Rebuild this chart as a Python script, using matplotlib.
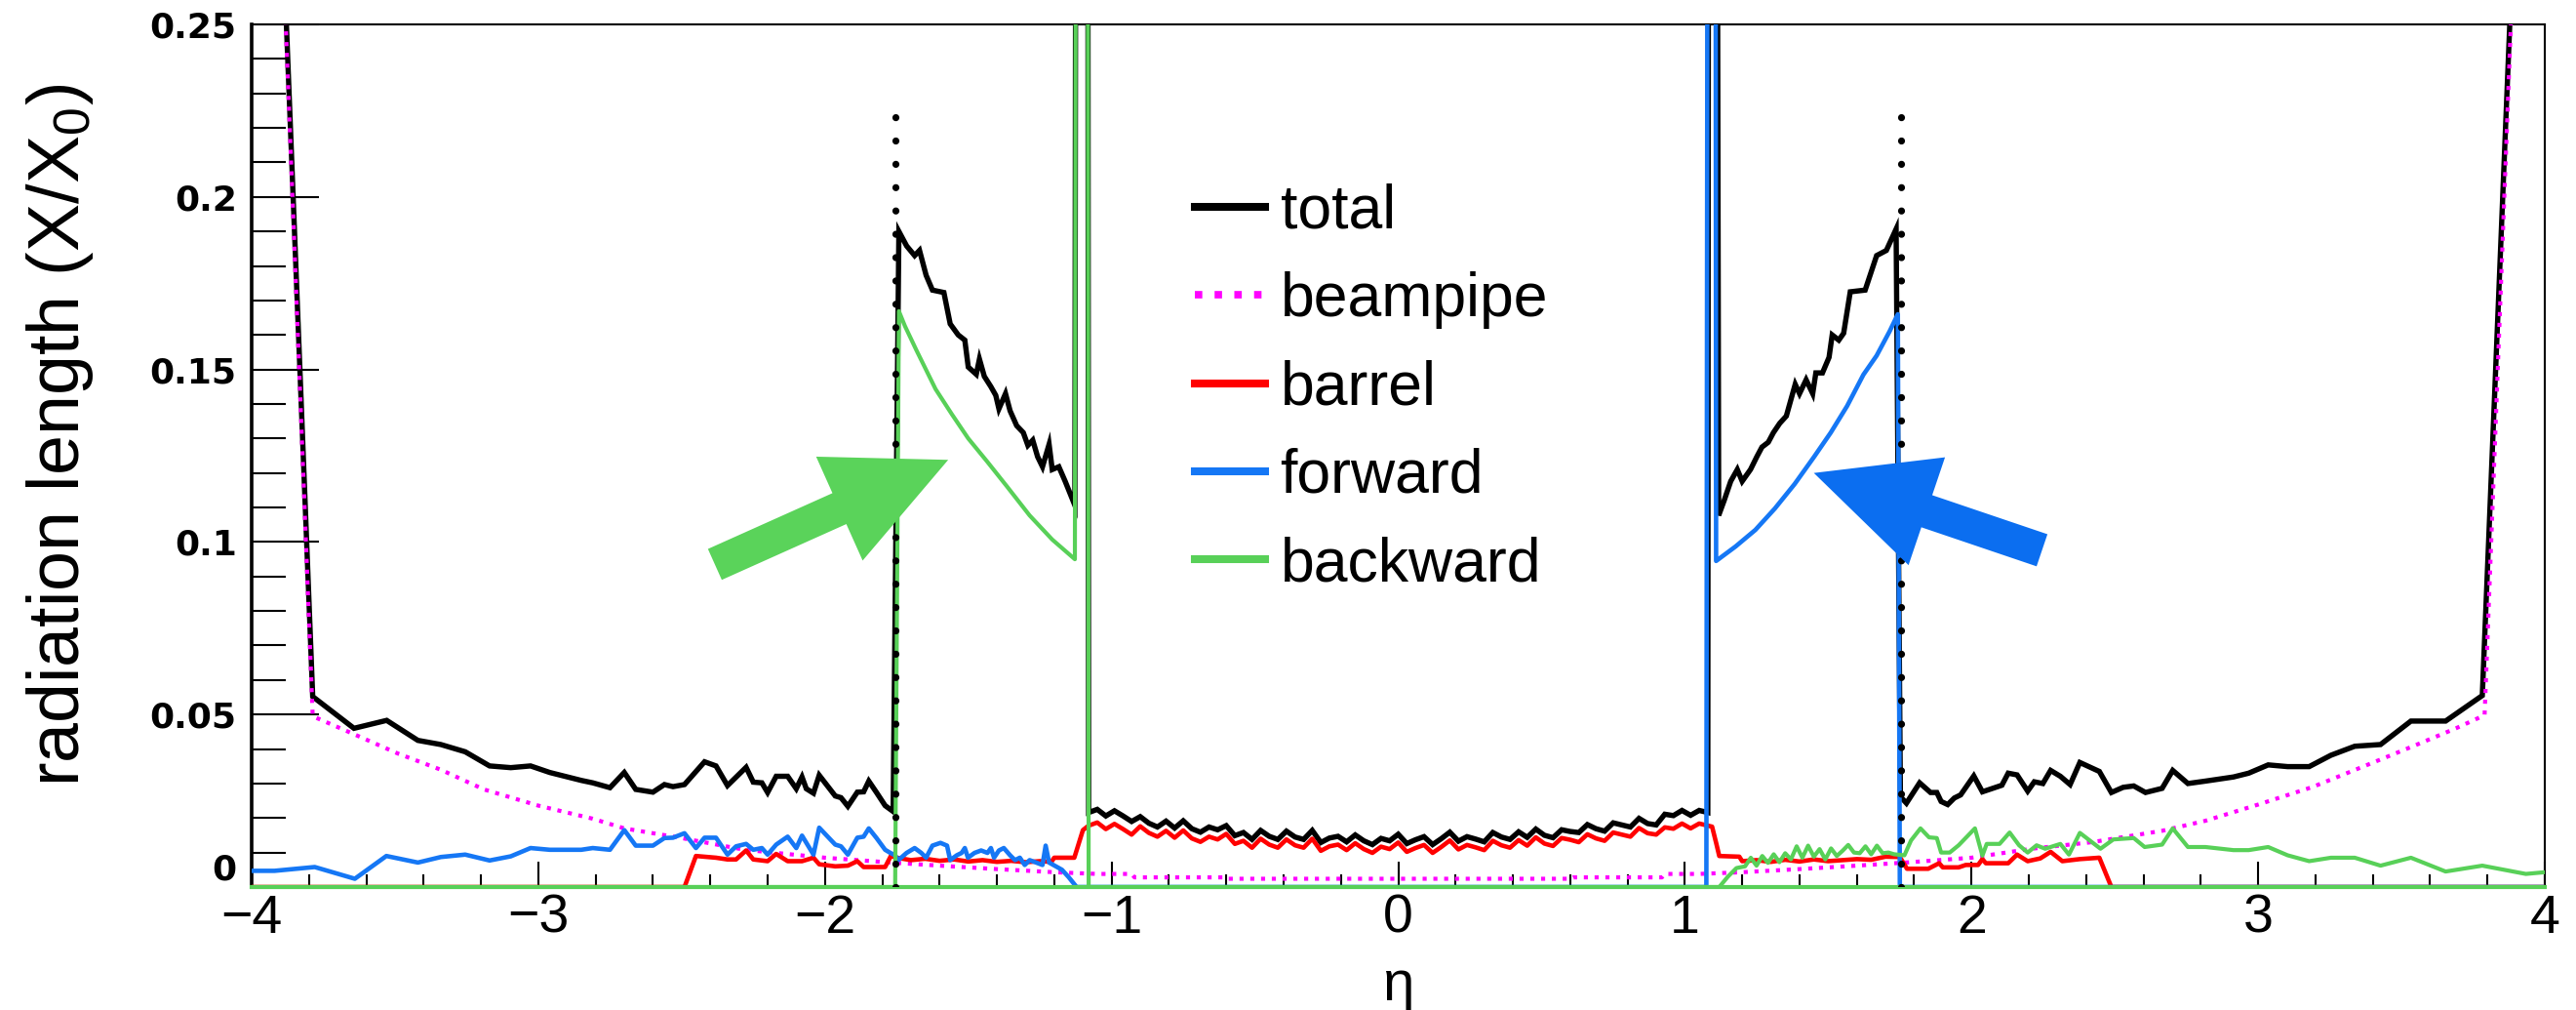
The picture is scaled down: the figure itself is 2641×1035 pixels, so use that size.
import matplotlib
matplotlib.use("Agg")
import matplotlib.pyplot as plt
from matplotlib.lines import Line2D

plt.rcParams['font.family'] = ['Liberation Sans', 'DejaVu Sans']
plt.rcParams['mathtext.fontset'] = 'custom'
plt.rcParams['mathtext.rm'] = 'Liberation Sans'
plt.rcParams['mathtext.it'] = 'Liberation Sans:italic'

# ---------------- data ----------------
total_eta = [-4.00, -3.90, -3.787, -3.643, -3.529, -3.420, -3.340, -3.255, -3.170, -3.096,
             -3.027, -2.960, -2.850, -2.810, -2.750, -2.700, -2.660, -2.600, -2.560, -2.530,
             -2.490, -2.420, -2.380, -2.340, -2.275, -2.250, -2.220, -2.200, -2.170, -2.130,
             -2.100, -2.080, -2.065, -2.040, -2.020, -1.964, -1.944, -1.920, -1.887, -1.865,
             -1.847, -1.820, -1.790, -1.762, -1.742, -1.715, -1.687, -1.670, -1.647, -1.625,
             -1.585, -1.563, -1.535, -1.512, -1.500, -1.472, -1.461, -1.444, -1.421, -1.404,
             -1.393, -1.370, -1.354, -1.331, -1.308, -1.292, -1.275, -1.258, -1.241, -1.218,
             -1.207, -1.184, -1.162, -1.128, -1.120, -1.086,
             -1.08, -1.05, -1.02, -0.99, -0.96, -0.93, -0.90, -0.87, -0.84, -0.81,
             -0.78, -0.75, -0.72, -0.69, -0.66, -0.63, -0.60, -0.57, -0.54, -0.51,
             -0.48, -0.45, -0.42, -0.39, -0.36, -0.33, -0.30, -0.27, -0.24, -0.21,
             -0.18, -0.15, -0.12, -0.09, -0.06, -0.03, 0.00, 0.03, 0.06, 0.09,
             0.12, 0.15, 0.18, 0.21, 0.24, 0.27, 0.30, 0.33, 0.36, 0.39,
             0.42, 0.45, 0.48, 0.51, 0.54, 0.57, 0.60, 0.63, 0.66, 0.69,
             0.72, 0.75, 0.78, 0.81, 0.84, 0.87, 0.90, 0.93, 0.96, 0.99,
             1.02, 1.05, 1.08,
             1.085, 1.105, 1.118, 1.137, 1.160, 1.183, 1.200, 1.229, 1.251, 1.269,
             1.291, 1.309, 1.331, 1.354, 1.371, 1.385, 1.400, 1.423, 1.446, 1.457,
             1.480, 1.503, 1.514, 1.537, 1.554, 1.577, 1.629, 1.669, 1.703, 1.737,
             1.752, 1.773, 1.819, 1.857, 1.879, 1.894, 1.917, 1.940, 1.962, 2.008,
             2.038, 2.106, 2.128, 2.159, 2.196, 2.219, 2.249, 2.276, 2.310, 2.344,
             2.378, 2.446, 2.488, 2.529, 2.566, 2.607, 2.665, 2.702, 2.755, 2.816,
             2.914, 2.967, 3.035, 3.103, 3.178, 3.254, 3.337, 3.427, 3.533, 3.654,
             3.782, 3.900, 4.000]
total_val = [0.555, 0.295, 0.0552, 0.0460, 0.0483, 0.0425, 0.0413, 0.0392, 0.0351, 0.0346,
             0.0351, 0.0332, 0.0309, 0.0302, 0.0288, 0.0332, 0.0283, 0.0275, 0.0297, 0.0291,
             0.0297, 0.0363, 0.0351, 0.0294, 0.0347, 0.0304, 0.0302, 0.0274, 0.0321, 0.0321,
             0.0285, 0.0319, 0.0285, 0.0272, 0.0324, 0.0264, 0.0259, 0.0234, 0.0275, 0.0276,
             0.0307, 0.0274, 0.0236, 0.0219, 0.1900, 0.1858, 0.1830, 0.1845, 0.1773, 0.1730,
             0.1723, 0.1632, 0.1600, 0.1585, 0.1507, 0.1486, 0.1530, 0.1480, 0.1450, 0.1425,
             0.1386, 0.1430, 0.1380, 0.1337, 0.1317, 0.1280, 0.1295, 0.1247, 0.1218, 0.1283,
             0.1210, 0.1218, 0.1176, 0.1106, 0.62, 0.62,
             0.0216, 0.0225, 0.0206, 0.0221, 0.0206, 0.0190, 0.0204, 0.0185, 0.0174, 0.0191,
             0.0171, 0.0192, 0.0169, 0.0159, 0.0174, 0.0166, 0.0178, 0.0149, 0.0158, 0.0138,
             0.0164, 0.0147, 0.0138, 0.0162, 0.0145, 0.0138, 0.0164, 0.0129, 0.0142, 0.0147,
             0.0131, 0.0151, 0.0134, 0.0123, 0.0141, 0.0134, 0.0153, 0.0126, 0.0137, 0.0146,
             0.0123, 0.0140, 0.0159, 0.0133, 0.0146, 0.0139, 0.0131, 0.0158, 0.0145, 0.0138,
             0.0160, 0.0144, 0.0168, 0.0150, 0.0143, 0.0166, 0.0161, 0.0158, 0.0181, 0.0169,
             0.0162, 0.0186, 0.0180, 0.0174, 0.0199, 0.0184, 0.0180, 0.0211, 0.0207, 0.0222,
             0.0208, 0.0222, 0.0216,
             0.62, 0.62, 0.1077, 0.1120, 0.1176, 0.1210, 0.1176, 0.1210, 0.1247, 0.1275,
             0.1289, 0.1317, 0.1344, 0.1365, 0.1415, 0.1457, 0.1430, 0.1470, 0.1430, 0.1490,
             0.1490, 0.1535, 0.1600, 0.1585, 0.1605, 0.1725, 0.1730, 0.1830, 0.1845, 0.1907,
             0.0262, 0.0243, 0.0302, 0.0274, 0.0274, 0.0248, 0.0239, 0.0258, 0.0267, 0.0322,
             0.0276, 0.0295, 0.0330, 0.0325, 0.0278, 0.0305, 0.0300, 0.0338, 0.0321, 0.0297,
             0.0361, 0.0335, 0.0274, 0.0289, 0.0293, 0.0274, 0.0286, 0.0338, 0.0300, 0.0307,
             0.0319, 0.0330, 0.0354, 0.0349, 0.0349, 0.0382, 0.0408, 0.0413, 0.0481, 0.0481,
             0.0555, 0.295, 0.555]

beampipe_eta = [-4.00, -3.90, -3.787, -3.643, -3.49, -3.34, -3.19, -3.00, -2.81, -2.70,
                -2.50, -2.28, -2.00, -1.77, -1.60, -1.40, -1.20, -1.05, -0.93, -0.92,
                -0.61, -0.60, 0.60, 0.61, 0.92, 0.93, 1.05, 1.20, 1.40, 1.60,
                1.77, 2.00, 2.21, 2.42, 2.665, 2.816, 3.00, 3.19, 3.375, 3.54,
                3.69, 3.79, 3.90, 4.00]
beampipe_val = [0.55, 0.29, 0.0495, 0.0443, 0.0387, 0.0340, 0.0283, 0.0236, 0.0198, 0.0170,
                0.0142, 0.0108, 0.0085, 0.0071, 0.0062, 0.0052, 0.0043, 0.0038, 0.0038, 0.0028,
                0.0028, 0.0024, 0.0024, 0.0028, 0.0028, 0.0038, 0.0038, 0.0043, 0.0052, 0.0062,
                0.0071, 0.0085, 0.0111, 0.0130, 0.0163, 0.0192, 0.0239, 0.0290, 0.0352, 0.0408,
                0.0460, 0.0498, 0.29, 0.55]

barrel_eta = [-4.00, -2.49, -2.45, -2.38, -2.34, -2.31, -2.275, -2.25, -2.20, -2.17,
              -2.13, -2.08, -2.04, -2.02, -1.964, -1.92, -1.887, -1.865, -1.79, -1.77,
              -1.75, -1.70, -1.65, -1.60, -1.55, -1.50, -1.45, -1.40, -1.35, -1.30,
              -1.25, -1.21, -1.20, -1.13, -1.10,
              -1.08, -1.05, -1.02, -0.99, -0.96, -0.93, -0.90, -0.87, -0.84, -0.81,
              -0.78, -0.75, -0.72, -0.69, -0.66, -0.63, -0.60, -0.57, -0.54, -0.51,
              -0.48, -0.45, -0.42, -0.39, -0.36, -0.33, -0.30, -0.27, -0.24, -0.21,
              -0.18, -0.15, -0.12, -0.09, -0.06, -0.03, 0.00, 0.03, 0.06, 0.09,
              0.12, 0.15, 0.18, 0.21, 0.24, 0.27, 0.30, 0.33, 0.36, 0.39,
              0.42, 0.45, 0.48, 0.51, 0.54, 0.57, 0.60, 0.63, 0.66, 0.69,
              0.72, 0.75, 0.78, 0.81, 0.84, 0.87, 0.90, 0.93, 0.96, 0.99,
              1.02, 1.05, 1.08,
              1.095, 1.11, 1.12, 1.19, 1.20, 1.25, 1.30, 1.35, 1.40, 1.45,
              1.50, 1.55, 1.60, 1.65, 1.70, 1.75, 1.775, 1.849, 1.887, 1.90,
              1.955, 1.98, 2.023, 2.038, 2.05, 2.128, 2.159, 2.196, 2.24, 2.276,
              2.317, 2.378, 2.446, 2.488, 4.00]
barrel_val = [0.0, 0.0, 0.0090, 0.0085, 0.0080, 0.0080, 0.0106, 0.0080, 0.0075, 0.0096,
              0.0075, 0.0075, 0.0085, 0.0066, 0.0060, 0.0062, 0.0075, 0.0058, 0.0058, 0.0090,
              0.0085, 0.0078, 0.0082, 0.0076, 0.0080, 0.0074, 0.0078, 0.0073, 0.0076, 0.0072,
              0.0075, 0.0073, 0.0085, 0.0085, 0.0165,
              0.0178, 0.0187, 0.0168, 0.0183, 0.0168, 0.0152, 0.0176, 0.0157, 0.0146, 0.0163,
              0.0143, 0.0164, 0.0141, 0.0131, 0.0146, 0.0138, 0.0154, 0.0125, 0.0134, 0.0114,
              0.0140, 0.0123, 0.0114, 0.0138, 0.0121, 0.0114, 0.0140, 0.0105, 0.0118, 0.0123,
              0.0107, 0.0127, 0.0110, 0.0099, 0.0117, 0.0110, 0.0129, 0.0102, 0.0113, 0.0122,
              0.0099, 0.0116, 0.0135, 0.0109, 0.0122, 0.0115, 0.0107, 0.0134, 0.0121, 0.0114,
              0.0136, 0.0120, 0.0144, 0.0126, 0.0119, 0.0142, 0.0137, 0.0130, 0.0153, 0.0141,
              0.0134, 0.0158, 0.0152, 0.0146, 0.0171, 0.0156, 0.0152, 0.0173, 0.0169, 0.0184,
              0.0170, 0.0184, 0.0178,
              0.0175, 0.0125, 0.0090, 0.0088, 0.0075, 0.0078, 0.0073, 0.0079, 0.0074, 0.0080,
              0.0075, 0.0078, 0.0081, 0.0079, 0.0088, 0.0087, 0.0053, 0.0053, 0.0069, 0.0057,
              0.0057, 0.0064, 0.0064, 0.0081, 0.0069, 0.0069, 0.0094, 0.0075, 0.0083, 0.0102,
              0.0075, 0.0081, 0.0085, 0.0, 0.0]

forward_eta = [-4.00, -3.92, -3.78, -3.64, -3.53, -3.42, -3.34, -3.255, -3.17, -3.096,
               -3.027, -2.96, -2.85, -2.81, -2.75, -2.70, -2.66, -2.60, -2.56, -2.53,
               -2.49, -2.45, -2.42, -2.38, -2.34, -2.31, -2.275, -2.25, -2.22, -2.20,
               -2.17, -2.13, -2.10, -2.08, -2.04, -2.02, -1.964, -1.944, -1.92, -1.887,
               -1.865, -1.847, -1.82, -1.79, -1.772, -1.755, -1.744, -1.715, -1.687, -1.664,
               -1.647, -1.625, -1.597, -1.574, -1.563, -1.540, -1.523, -1.512, -1.501, -1.478,
               -1.455, -1.433, -1.421, -1.410, -1.393, -1.376, -1.354, -1.337, -1.320, -1.303,
               -1.286, -1.263, -1.241, -1.230, -1.218, -1.173, -1.150, -1.122,
               1.075, 1.083, 1.105, 1.109, 1.177, 1.246, 1.314, 1.383, 1.451, 1.509,
               1.566, 1.623, 1.669, 1.714, 1.743, 1.750, 4.00]
forward_val = [0.0047, 0.0047, 0.0058, 0.0024, 0.0090, 0.0071, 0.0087, 0.0094, 0.0077, 0.0089,
               0.0113, 0.0108, 0.0108, 0.0113, 0.0108, 0.0165, 0.0120, 0.0120, 0.0142, 0.0143,
               0.0156, 0.0113, 0.0143, 0.0143, 0.0094, 0.0118, 0.0125, 0.0108, 0.0113, 0.0094,
               0.0123, 0.0146, 0.0113, 0.0149, 0.0094, 0.0172, 0.0123, 0.0118, 0.0094, 0.0143,
               0.0146, 0.0170, 0.0142, 0.0108, 0.0099, 0.0092, 0.0078, 0.0099, 0.0113, 0.0099,
               0.0085, 0.0120, 0.0128, 0.0120, 0.0078, 0.0092, 0.0099, 0.0113, 0.0085, 0.0099,
               0.0106, 0.0099, 0.0113, 0.0085, 0.0106, 0.0113, 0.0092, 0.0078, 0.0085, 0.0064,
               0.0078, 0.0071, 0.0064, 0.0120, 0.0071, 0.0050, 0.0029, 0.0,
               0.0, 0.6, 0.6, 0.0945, 0.0987, 0.1035, 0.1097, 0.1168, 0.1247, 0.1317,
               0.1394, 0.1485, 0.1540, 0.1610, 0.1660, 0.0, 0.0]

backward_eta = [-4.00, -1.755, -1.742, -1.721, -1.681, -1.614, -1.557, -1.500, -1.433, -1.365,
                -1.286, -1.207, -1.128, -1.120, -1.086, -1.080, 1.12, 1.15, 1.18, 1.21,
                1.23, 1.25, 1.27, 1.29, 1.31, 1.33, 1.35, 1.37, 1.39, 1.41,
                1.43, 1.45, 1.47, 1.49, 1.51, 1.53, 1.55, 1.57, 1.59, 1.61,
                1.63, 1.65, 1.67, 1.69, 1.71, 1.73, 1.766, 1.789, 1.822, 1.852,
                1.879, 1.894, 1.924, 1.955, 2.012, 2.038, 2.053, 2.098, 2.133, 2.166,
                2.196, 2.227, 2.257, 2.310, 2.340, 2.378, 2.450, 2.495, 2.566, 2.604,
                2.665, 2.702, 2.755, 2.816, 2.914, 2.967, 3.035, 3.103, 3.178, 3.254,
                3.337, 3.427, 3.533, 3.654, 3.782, 3.934, 4.00]
backward_val = [0.0, 0.0, 0.1669, 0.1626, 0.1556, 0.1443, 0.1370, 0.1300, 0.1232, 0.1161,
                0.1077, 0.1007, 0.0950, 0.6, 0.6, 0.0, 0.0, 0.0030, 0.0055, 0.0060,
                0.0085, 0.0062, 0.0090, 0.0070, 0.0095, 0.0072, 0.0098, 0.0080, 0.0118, 0.0085,
                0.0120, 0.0088, 0.0110, 0.0080, 0.0112, 0.0090, 0.0105, 0.0122, 0.0100, 0.0098,
                0.0118, 0.0095, 0.0120, 0.0098, 0.0100, 0.0095, 0.0092, 0.0135, 0.0170, 0.0144,
                0.0142, 0.0100, 0.0100, 0.0121, 0.0170, 0.0091, 0.0125, 0.0125, 0.0158, 0.0121,
                0.0100, 0.0121, 0.0111, 0.0125, 0.0094, 0.0157, 0.0111, 0.0138, 0.0142, 0.0116,
                0.0123, 0.0170, 0.0116, 0.0116, 0.0107, 0.0107, 0.0116, 0.0092, 0.0075, 0.0085,
                0.0085, 0.0062, 0.0085, 0.0045, 0.0062, 0.0038, 0.0043]

boundary_eta = [-1.755, 1.755]
boundary_top = 0.227

series_labels = ['total', 'beampipe', 'barrel', 'forward', 'backward']

arrow_tails = [(-2.384, 0.0935), (2.246, 0.0976)]
arrow_tips = [(-1.570, 0.1238), (1.450, 0.1200)]

xticks = [-4, -3, -2, -1, 0, 1, 2, 3, 4]
xtick_labels = ['\u22124', '\u22123', '\u22122', '\u22121', '0', '1', '2', '3', '4']
yticks = [0, 0.05, 0.1, 0.15, 0.2, 0.25]
ytick_labels = ['0', '0.05', '0.1', '0.15', '0.2', '0.25']

# ---------------- styling ----------------
C_BLACK = 'black'
C_MAG = '#ff00ff'
C_RED = '#ff0000'
C_BLUE = '#1577f5'
C_GREEN = '#58d058'
C_ARROW_GREEN = '#5ad35a'
C_ARROW_BLUE = '#0b6ef0'

W, H, DPI = 2641, 1035, 100
fig = plt.figure(figsize=(W / DPI, H / DPI), dpi=DPI)
L, R, T, B = 258, 2609, 25, 909
ax = fig.add_axes([L / W, 1 - B / H, (R - L) / W, (B - T) / H])

ax.plot(total_eta, total_val, color=C_BLACK, lw=3.9, zorder=2, solid_joinstyle='miter')
ax.plot(beampipe_eta, beampipe_val, color=C_MAG, lw=3.0, ls=':', zorder=3)
ax.plot(barrel_eta, barrel_val, color=C_RED, lw=3.3, zorder=4)
ax.plot(forward_eta, forward_val, color=C_BLUE, lw=3.3, zorder=5)
ax.plot(backward_eta, backward_val, color=C_GREEN, lw=3.0, zorder=6)
ax.vlines(boundary_eta, 0, boundary_top, colors=C_BLACK, lw=5.2,
          linestyles=[(0, (0.01, 3.3))], capstyle='round', zorder=7)

for (tail, tip, col) in zip(arrow_tails, arrow_tips, [C_ARROW_GREEN, C_ARROW_BLUE]):
    ax.annotate('', xy=tip, xytext=tail,
                arrowprops=dict(arrowstyle='simple,head_length=88,head_width=84,tail_width=25',
                                mutation_scale=1, color=col, lw=0, shrinkA=0, shrinkB=0),
                zorder=8)

ax.set_xlim(-4, 4)
ax.set_ylim(0, 0.25)

ax.set_xticks(xticks, labels=xtick_labels)
ax.set_xticks([v / 5 for v in range(-20, 21)], minor=True)
ax.set_yticks(yticks, labels=ytick_labels)
ax.set_yticks([v / 100 for v in range(0, 26)], minor=True)

ax.tick_params(axis='x', which='major', direction='in', length=19, width=1.5,
               labelsize=40, pad=5, top=False)
ax.tick_params(axis='x', which='minor', direction='in', length=9.5, width=1.5, top=False)
ax.tick_params(axis='y', which='major', direction='in', length=50, width=1.5,
               labelsize=26, pad=11, right=False)
ax.tick_params(axis='y', which='minor', direction='in', length=25, width=1.5, right=False)
ylabs = ax.get_yticklabels()
for lab in ylabs:
    lab.set_family('DejaVu Sans')
    lab.set_weight('bold')
    lab.set_va('center_baseline')
# keep the "0" label clear of the "-4" label below it
ylabs[0].set_va('bottom')

ax.spines['left'].set_linewidth(2.6)
ax.spines['top'].set_linewidth(1.5)
ax.spines['right'].set_linewidth(1.5)
ax.spines['bottom'].set_linewidth(3.0)
ax.spines['bottom'].set_color(C_GREEN)
ax.spines['bottom'].set_zorder(6.5)

ax.set_xlabel('\u03b7', fontsize=42)
ax.xaxis.set_label_coords(0.5, -(1010 - B) / (B - T))
ax.xaxis.label.set_va('center')
ax.set_ylabel('radiation length (X/X$_{0}$)', fontsize=53)
ax.yaxis.set_label_coords((62 - L) / (R - L), (B - 446) / (B - T))
ax.yaxis.label.set_va('center')

handles = [Line2D([], [], color=C_BLACK, lw=5.8),
           Line2D([], [], color=C_MAG, lw=5.5, ls=':'),
           Line2D([], [], color=C_RED, lw=5.8),
           Line2D([], [], color=C_BLUE, lw=5.8),
           Line2D([], [], color=C_GREEN, lw=5.8)]
leg = ax.legend(handles, series_labels, loc='upper left', frameon=False,
                bbox_to_anchor=(1225 / W, 1 - 188 / H), bbox_transform=fig.transFigure,
                fontsize=45, handlelength=1.15, handletextpad=0.25, labelspacing=0.5,
                borderpad=0, borderaxespad=0)

fig.savefig('out.png', dpi=DPI)
